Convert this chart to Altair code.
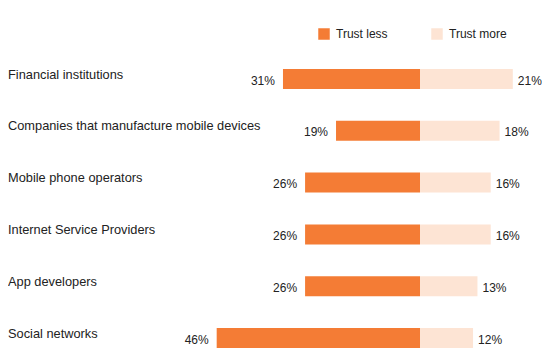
import altair as alt
import pandas as pd

categories = [
    "Financial institutions",
    "Companies that manufacture mobile devices",
    "Mobile phone operators",
    "Internet Service Providers",
    "App developers",
    "Social networks",
]
trust_less = [31, 19, 26, 26, 26, 46]
trust_more = [21, 18, 16, 16, 13, 12]
series = ["Trust less", "Trust more"]
colors = ["#F47C35", "#FDE4D4"]

rows = []
for c, l, m in zip(categories, trust_less, trust_more):
    rows.append({"cat": c, "series": "Trust less", "start": -l, "end": 0, "val": l, "lab": f"{l}%"})
    rows.append({"cat": c, "series": "Trust more", "start": 0, "end": m, "val": m, "lab": f"{m}%"})
df = pd.DataFrame(rows)

FONT = "Liberation Sans"
TXT = "#222222"

xscale = alt.Scale(domain=[-50, 25], range=[191.0, 522.5])
yscale = alt.Scale(type="point", domain=categories, range=[71, 330], padding=0)

base = alt.Chart(df)

bars = base.mark_bar(size=20).encode(
    x=alt.X("start:Q", scale=xscale, axis=None),
    x2="end:Q",
    y=alt.Y("cat:N", scale=yscale, axis=None),
    color=alt.Color(
        "series:N",
        scale=alt.Scale(domain=series, range=colors),
        legend=alt.Legend(
            title=None,
            orient="none",
            legendX=310,
            legendY=20,
            direction="horizontal",
            symbolType="square",
            symbolSize=132,
            symbolStrokeWidth=0,
            labelFont=FONT,
            labelFontSize=12,
            labelColor=TXT,
            labelOffset=6,
            columnPadding=43,
            padding=0,
        ),
    ),
)

left_lab = base.transform_filter(alt.datum.series == "Trust less").mark_text(
    align="right", baseline="middle", dx=-8, dy=1.5, font=FONT, fontSize=12, color=TXT
).encode(
    x=alt.X("start:Q", scale=xscale),
    y=alt.Y("cat:N", scale=yscale),
    text="lab:N",
)

right_lab = base.transform_filter(alt.datum.series == "Trust more").mark_text(
    align="left", baseline="middle", dx=5, dy=1.5, font=FONT, fontSize=12, color=TXT
).encode(
    x=alt.X("end:Q", scale=xscale),
    y=alt.Y("cat:N", scale=yscale),
    text="lab:N",
)

cat_lab = base.transform_filter(alt.datum.series == "Trust less").mark_text(
    align="left", baseline="middle", dy=-4.5, font=FONT, fontSize=12.8, color=TXT
).encode(
    x=alt.value(0),
    y=alt.Y("cat:N", scale=yscale),
    text="cat:N",
)

chart = (
    alt.layer(bars, left_lab, right_lab, cat_lab)
    .properties(width=534, height=348, autosize=alt.AutoSizeParams(type="none"), padding=0)
    .configure_view(stroke=None)
)

chart.save("out.html", embed_options={"renderer": "svg", "actions": False})
